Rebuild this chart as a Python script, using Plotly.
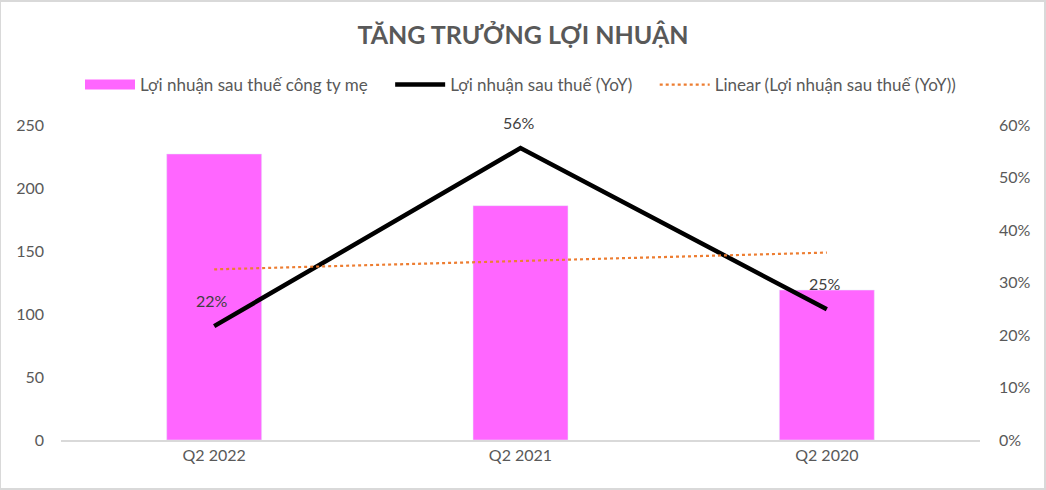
import plotly.graph_objects as go

# ---- data ----
quarters = ["Q2 2022", "Q2 2021", "Q2 2020"]
profit = [227, 186, 119]            # Lợi nhuận sau thuế công ty mẹ
yoy = [21.7, 55.6, 24.9]            # Lợi nhuận sau thuế (YoY), %
yoy_text = ["22%", "56%", "25%"]
trend = [32.5, 34.1, 35.7]          # Linear trendline of YoY

font_name = "Lato"
grey = "#595959"
pink = "#FF66FF"
pad = "\u00a0" * 4   # extra room between legend entries

fig = go.Figure()

fig.add_trace(go.Bar(
    x=quarters, y=profit, name="Lợi nhuận sau thuế công ty mẹ",
    marker_color=pink, width=0.31, showlegend=False,
))
# legend entry for the bars drawn as a wide block, like Excel does
fig.add_trace(go.Scatter(
    x=quarters[:1], y=[None], name="Lợi nhuận sau thuế công ty mẹ" + pad,
    mode="lines", line=dict(color=pink, width=12), hoverinfo="skip",
))
fig.add_trace(go.Scatter(
    x=quarters, y=yoy, name="Lợi nhuận sau thuế (YoY)" + pad, yaxis="y2",
    mode="lines", line=dict(color="black", width=4.5),
))
fig.add_trace(go.Scatter(
    x=quarters, y=trend, name="Linear (Lợi nhuận sau thuế (YoY))", yaxis="y2",
    mode="lines", line=dict(color="#ED7D31", width=2.2, dash="dot"),
    hoverinfo="skip",
))

# data labels of the YoY line
for q, v, t in zip(quarters, yoy, yoy_text):
    fig.add_annotation(x=q, y=v, yref="y2", text=t, showarrow=False,
                       yshift=26, xshift=-2,
                       font=dict(size=16, color="#404040", family=font_name))

fig.update_layout(
    width=1046, height=490,
    margin=dict(l=61, r=66, t=125, b=50),
    paper_bgcolor="white", plot_bgcolor="white",
    font=dict(family=font_name, color=grey, size=16),
    title=dict(text="<b>TĂNG TRƯỞNG LỢI NHUẬN</b>", x=0.5, xanchor="center",
               y=0.928, yanchor="middle", font=dict(size=25, color=grey, family=font_name)),
    legend=dict(orientation="h", x=0.5, xanchor="center", y=1.127, yanchor="middle",
                font=dict(size=17, color=grey, family=font_name), traceorder="normal",
                itemwidth=50),
    showlegend=True,
    xaxis=dict(showline=True, linecolor="#D9D9D9", linewidth=1.5, ticks="",
               tickfont=dict(size=16, color=grey)),
    yaxis=dict(range=[0, 250], dtick=50, showgrid=False, zeroline=False,
               ticklabelstandoff=16, tickfont=dict(size=16, color=grey)),
    yaxis2=dict(range=[0, 60], dtick=10, overlaying="y", side="right",
                ticksuffix="%", showgrid=False, zeroline=False,
                ticklabelstandoff=18, tickfont=dict(size=16, color=grey)),
)

# border round the whole chart
fig.add_shape(type="rect", xref="paper", yref="paper",
              x0=-61/919, x1=1+65/919, y0=-49/315, y1=1+124/315,
              line=dict(color="#D9D9D9", width=2))

fig.write_html("out.html", config={"displayModeBar": False},
               post_script="document.body.style.margin='0';")
